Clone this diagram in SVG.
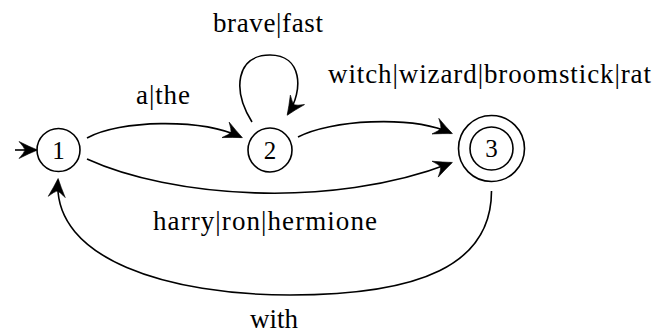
<svg xmlns="http://www.w3.org/2000/svg" width="656" height="333" viewBox="0 0 656 333">
<style>
.st{fill:none;stroke:#000;stroke-width:1.6}
.lb{font-family:"Liberation Serif","Times New Roman",serif;font-size:27px;fill:#000}
.nl{font-family:"Liberation Serif","Times New Roman",serif;font-size:25px;fill:#000;text-anchor:middle}
.ed{fill:none;stroke:#000;stroke-width:1.6;marker-end:url(#ah)}
</style>
<defs>
<marker id="ah" markerUnits="userSpaceOnUse" markerWidth="40" markerHeight="40" viewBox="-20 -20 40 40" refX="0" refY="0" orient="auto" overflow="visible">
<path d="M1.5,0 Q-7,-3.5 -17,-8.5 Q-12,-3 -11,0 Q-12,3 -17,8.5 Q-7,3.5 1.5,0 Z" fill="#000" stroke="#000" stroke-width="0.6" stroke-linejoin="round"/>
</marker>
</defs>
<g id="node1">
<circle class="st" cx="58.5" cy="150" r="21.5"/>
<text class="nl" x="58.5" y="158.5">1</text>
</g>
<g id="node2">
<circle class="st" cx="270" cy="150" r="22"/>
<text class="nl" x="270" y="158.5">2</text>
</g>
<g id="node3">
<circle class="st" cx="491.5" cy="148.5" r="33"/>
<circle class="st" cx="491.5" cy="148.5" r="21.5"/>
<text class="nl" x="491.5" y="157">3</text>
</g>
<g id="connectors">
<path class="ed" d="M15,150 L36,150"/>
<path class="ed" d="M87,138 C120,120 200,118 241,137"/>
<path class="ed" d="M252,122 C232,90 236,55 270,55 C302,55 304,90 288,114"/>
<path class="ed" d="M298,137 C330,120 410,115 451,133"/>
<path class="ed" d="M87,159 C170,197 330,210 451,163"/>
<path class="ed" d="M491.5,191 C491.5,265 420,295 290,295 C170,295 52,260 58,180"/>
</g>
<g id="labels">
<text class="lb" x="213" y="31.5" textLength="110" lengthAdjust="spacing">brave|fast</text>
<text class="lb" x="136" y="104" textLength="54" lengthAdjust="spacing">a|the</text>
<text class="lb" x="328" y="83" textLength="323" lengthAdjust="spacing">witch|wizard|broomstick|rat</text>
<text class="lb" x="153" y="230" textLength="224" lengthAdjust="spacing">harry|ron|hermione</text>
<text class="lb" x="250" y="328">with</text>
</g>
</svg>
